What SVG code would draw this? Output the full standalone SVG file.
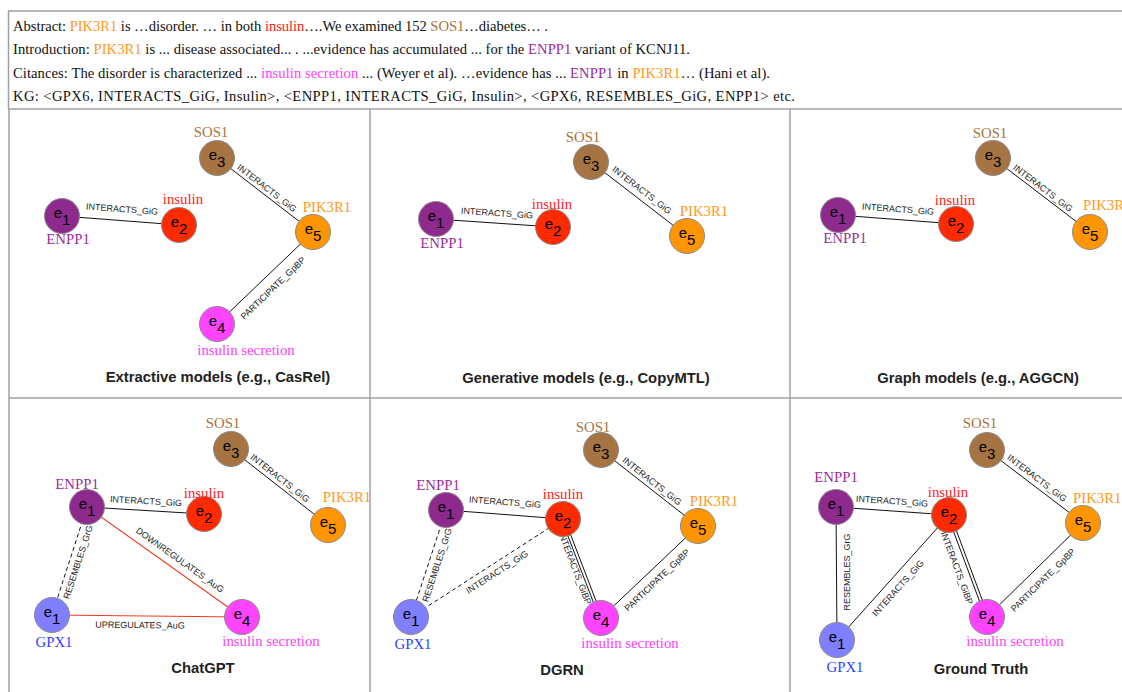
<svg xmlns="http://www.w3.org/2000/svg" width="1122" height="692" viewBox="0 0 1122 692">
<style>
.frame{fill:none;stroke:#a0a0a0;stroke-width:1.5}
.top{font-family:"Liberation Serif","Times New Roman",serif;font-size:14.6px;fill:#111}
.lbl{font-family:"Liberation Serif","Times New Roman",serif;font-size:14.8px;text-anchor:middle}
.ttl{font-family:"Liberation Sans",Arial,sans-serif;font-size:14.8px;font-weight:bold;fill:#222;text-anchor:middle}
.el{font-family:"Liberation Sans",Arial,sans-serif;font-size:9px;fill:#222;text-anchor:middle}
.e{stroke:#111;stroke-width:1;fill:none}
.d{stroke:#111;stroke-width:1;fill:none;stroke-dasharray:4,3}
.r{stroke:#f03a22;stroke-width:1.1;fill:none}
.n{stroke:#8a8a8a;stroke-width:1}
.nt{font-family:"Liberation Sans",Arial,sans-serif;font-size:15px;fill:#000;text-anchor:middle}
.c1{fill:#8e2a8e}.c2{fill:#ff2a00}.c3{fill:#a67443}.c4{fill:#ff44ff}.c5{fill:#ff9500}.cg{fill:#7f7fff}
.tp{fill:#9a2d9a}.tr{fill:#ff1a1a}.tb{fill:#a87340}.to{fill:#ff9a1a}.tm{fill:#ff3dff}.tg{fill:#2f3fff}
</style>
<rect width="1122" height="692" fill="#fff"/>
<g id="text-box">
<rect class="frame" x="8.5" y="11" width="1130" height="98"/>
<text class="top" x="13" y="31" textLength="535" lengthAdjust="spacing">Abstract: <tspan class="to">PIK3R1</tspan> is …disorder. … in both <tspan class="tr">insulin</tspan>….We examined 152 <tspan class="tb">SOS1</tspan>…diabetes… .</text>
<text class="top" x="13" y="54" textLength="677" lengthAdjust="spacing">Introduction: <tspan class="to">PIK3R1</tspan> is ... disease associated... . ...evidence has accumulated ... for the <tspan class="tp">ENPP1</tspan> variant of KCNJ11.</text>
<text class="top" x="13" y="78" textLength="757" lengthAdjust="spacing">Citances: The disorder is characterized ... <tspan class="tm">insulin secretion</tspan> ... (Weyer et al). …evidence has ... <tspan class="tp">ENPP1</tspan> in <tspan class="to">PIK3R1</tspan>… (Hani et al).</text>
<text class="top" x="13" y="101" textLength="782" lengthAdjust="spacing">KG: &lt;GPX6, INTERACTS_GiG, Insulin&gt;, &lt;ENPP1, INTERACTS_GiG, Insulin&gt;, &lt;GPX6, RESEMBLES_GiG, ENPP1&gt; etc.</text>
</g>
<g id="grid">
<line class="frame" x1="9" y1="109" x2="9" y2="692"/>
<line class="frame" x1="370" y1="109" x2="370" y2="692"/>
<line class="frame" x1="790" y1="109" x2="790" y2="692"/>
<line class="frame" x1="9" y1="398" x2="1122" y2="398"/>
</g>

<!-- Panel 1 -->
<g id="p1">
<g id="p1-connectors">
<line class="e" x1="62" y1="216" x2="179" y2="225"/>
<line class="e" x1="217" y1="158" x2="313" y2="232"/>
<line class="e" x1="217" y1="324" x2="313" y2="232"/>
<text class="el" transform="translate(122,209) rotate(4.4)" dy=".35em">INTERACTS_GiG</text>
<text class="el" transform="translate(267,188) rotate(37.6)" dy=".35em">INTERACTS_GiG</text>
<text class="el" transform="translate(273,288) rotate(-43.8)" dy=".35em">PARTICIPATE_GpBP</text>
</g>
<g id="p1-e1"><circle class="n c1" cx="62" cy="216" r="17.5"/><text class="nt" x="62" y="218">e<tspan dy="7">1</tspan></text><text class="lbl tp" x="68" y="244">ENPP1</text></g>
<g id="p1-e2"><circle class="n c2" cx="179" cy="225" r="17.5"/><text class="nt" x="179" y="227">e<tspan dy="7">2</tspan></text><text class="lbl tr" x="183" y="204">insulin</text></g>
<g id="p1-e3"><circle class="n c3" cx="217" cy="158" r="17.5"/><text class="nt" x="217" y="160">e<tspan dy="7">3</tspan></text><text class="lbl tb" x="211" y="137">SOS1</text></g>
<g id="p1-e5"><circle class="n c5" cx="313" cy="232" r="17.5"/><text class="nt" x="313" y="234">e<tspan dy="7">5</tspan></text><text class="lbl to" x="327" y="212">PIK3R1</text></g>
<g id="p1-e4"><circle class="n c4" cx="217" cy="324" r="17.5"/><text class="nt" x="217" y="326">e<tspan dy="7">4</tspan></text><text class="lbl tm" x="246" y="355">insulin secretion</text></g>
<text class="ttl" x="218" y="382">Extractive models (e.g., CasRel)</text>
</g>

<!-- Panel 2 -->
<g id="p2">
<g id="p2-connectors">
<line class="e" x1="436" y1="219" x2="553" y2="227"/>
<line class="e" x1="591" y1="162" x2="687" y2="236"/>
<text class="el" transform="translate(497,213) rotate(3.9)" dy=".35em">INTERACTS_GiG</text>
<text class="el" transform="translate(642,190) rotate(37.6)" dy=".35em">INTERACTS_GiG</text>
</g>
<g id="p2-e1"><circle class="n c1" cx="436" cy="219" r="17.5"/><text class="nt" x="436" y="221">e<tspan dy="7">1</tspan></text><text class="lbl tp" x="442" y="248">ENPP1</text></g>
<g id="p2-e2"><circle class="n c2" cx="553" cy="227" r="17.5"/><text class="nt" x="553" y="229">e<tspan dy="7">2</tspan></text><text class="lbl tr" x="552" y="209">insulin</text></g>
<g id="p2-e3"><circle class="n c3" cx="591" cy="162" r="17.5"/><text class="nt" x="591" y="164">e<tspan dy="7">3</tspan></text><text class="lbl tb" x="583" y="142">SOS1</text></g>
<g id="p2-e5"><circle class="n c5" cx="687" cy="236" r="17.5"/><text class="nt" x="687" y="238">e<tspan dy="7">5</tspan></text><text class="lbl to" x="704" y="216">PIK3R1</text></g>
<text class="ttl" x="586" y="383">Generative models (e.g., CopyMTL)</text>
</g>

<!-- Panel 3 -->
<g id="p3">
<g id="p3-connectors">
<line class="e" x1="838" y1="215" x2="956" y2="224"/>
<line class="e" x1="993" y1="158" x2="1090" y2="232"/>
<text class="el" transform="translate(898,209) rotate(4.4)" dy=".35em">INTERACTS_GiG</text>
<text class="el" transform="translate(1043,188) rotate(37.3)" dy=".35em">INTERACTS_GiG</text>
</g>
<g id="p3-e1"><circle class="n c1" cx="838" cy="215" r="17.5"/><text class="nt" x="838" y="217">e<tspan dy="7">1</tspan></text><text class="lbl tp" x="845" y="243">ENPP1</text></g>
<g id="p3-e2"><circle class="n c2" cx="956" cy="224" r="17.5"/><text class="nt" x="956" y="226">e<tspan dy="7">2</tspan></text><text class="lbl tr" x="955" y="205">insulin</text></g>
<g id="p3-e3"><circle class="n c3" cx="993" cy="158" r="17.5"/><text class="nt" x="993" y="160">e<tspan dy="7">3</tspan></text><text class="lbl tb" x="990" y="138">SOS1</text></g>
<g id="p3-e5"><circle class="n c5" cx="1090" cy="232" r="17.5"/><text class="nt" x="1090" y="234">e<tspan dy="7">5</tspan></text><text class="lbl to" x="1083" y="210" style="text-anchor:start">PIK3R1</text></g>
<text class="ttl" x="978" y="383">Graph models (e.g., AGGCN)</text>
</g>

<!-- Panel 4 -->
<g id="p4">
<g id="p4-connectors">
<line class="e" x1="231" y1="449" x2="328" y2="525"/>
<line class="e" x1="87" y1="507" x2="204" y2="514"/>
<line class="d" x1="87" y1="507" x2="52" y2="615"/>
<line class="r" x1="87" y1="507" x2="242" y2="617"/>
<line class="r" x1="52" y1="615" x2="242" y2="617"/>
<text class="el" transform="translate(280,478) rotate(38.1)" dy=".35em">INTERACTS_GiG</text>
<text class="el" transform="translate(146,501) rotate(3.4)" dy=".35em">INTERACTS_GiG</text>
<text class="el" transform="translate(78,562) rotate(-72)" dy=".35em">RESEMBLES_GrG</text>
<text class="el" transform="translate(180,560) rotate(35.4)" dy=".35em">DOWNREGULATES_AuG</text>
<text class="el" transform="translate(140,625) rotate(0.6)" dy=".35em">UPREGULATES_AuG</text>
</g>
<g id="p4-e3"><circle class="n c3" cx="231" cy="449" r="17.5"/><text class="nt" x="231" y="451">e<tspan dy="7">3</tspan></text><text class="lbl tb" x="223" y="428">SOS1</text></g>
<g id="p4-e5"><circle class="n c5" cx="328" cy="525" r="17.5"/><text class="nt" x="328" y="527">e<tspan dy="7">5</tspan></text><text class="lbl to" x="347" y="502">PIK3R1</text></g>
<g id="p4-e1"><circle class="n c1" cx="87" cy="507" r="17.5"/><text class="nt" x="87" y="509">e<tspan dy="7">1</tspan></text><text class="lbl tp" x="77" y="489">ENPP1</text></g>
<g id="p4-e2"><circle class="n c2" cx="204" cy="514" r="17.5"/><text class="nt" x="204" y="516">e<tspan dy="7">2</tspan></text><text class="lbl tr" x="204" y="498">insulin</text></g>
<g id="p4-gpx1"><circle class="n cg" cx="52" cy="615" r="17.5"/><text class="nt" x="52" y="617">e<tspan dy="7">1</tspan></text><text class="lbl tg" x="54" y="647">GPX1</text></g>
<g id="p4-e4"><circle class="n c4" cx="242" cy="617" r="17.5"/><text class="nt" x="242" y="619">e<tspan dy="7">4</tspan></text><text class="lbl tm" x="271" y="646">insulin secretion</text></g>
<text class="ttl" x="203" y="673">ChatGPT</text>
</g>

<!-- Panel 5 -->
<g id="p5">
<g id="p5-connectors">
<line class="e" x1="601" y1="450" x2="698" y2="526"/>
<line class="e" x1="446" y1="510" x2="563" y2="519"/>
<line class="d" x1="446" y1="510" x2="411" y2="617"/>
<line class="d" x1="411" y1="617" x2="563" y2="519"/>
<line class="e" x1="561.6" y1="519.5" x2="599.6" y2="618.5"/>
<line class="e" x1="564.4" y1="518.5" x2="602.4" y2="617.5"/>
<line class="e" x1="698" y1="526" x2="601" y2="618"/>
<text class="el" transform="translate(652,481) rotate(38.1)" dy=".35em">INTERACTS_GiG</text>
<text class="el" transform="translate(505,502) rotate(4.4)" dy=".35em">INTERACTS_GiG</text>
<text class="el" transform="translate(437,565) rotate(-71.9)" dy=".35em">RESEMBLES_GrG</text>
<text class="el" transform="translate(497,572) rotate(-32.8)" dy=".35em">INTERACTS_GiG</text>
<text class="el" transform="translate(575,568) rotate(69)" dy=".35em">INTERACTS_GiBP</text>
<text class="el" transform="translate(657,580) rotate(-43.5)" dy=".35em">PARTICIPATE_GpBP</text>
</g>
<g id="p5-e3"><circle class="n c3" cx="601" cy="450" r="17.5"/><text class="nt" x="601" y="452">e<tspan dy="7">3</tspan></text><text class="lbl tb" x="593" y="432">SOS1</text></g>
<g id="p5-e5"><circle class="n c5" cx="698" cy="526" r="17.5"/><text class="nt" x="698" y="528">e<tspan dy="7">5</tspan></text><text class="lbl to" x="714" y="506">PIK3R1</text></g>
<g id="p5-e1"><circle class="n c1" cx="446" cy="510" r="17.5"/><text class="nt" x="446" y="512">e<tspan dy="7">1</tspan></text><text class="lbl tp" x="438" y="490">ENPP1</text></g>
<g id="p5-e2"><circle class="n c2" cx="563" cy="519" r="17.5"/><text class="nt" x="563" y="521">e<tspan dy="7">2</tspan></text><text class="lbl tr" x="563" y="499">insulin</text></g>
<g id="p5-gpx1"><circle class="n cg" cx="411" cy="617" r="17.5"/><text class="nt" x="411" y="619">e<tspan dy="7">1</tspan></text><text class="lbl tg" x="413" y="649">GPX1</text></g>
<g id="p5-e4"><circle class="n c4" cx="601" cy="618" r="17.5"/><text class="nt" x="601" y="620">e<tspan dy="7">4</tspan></text><text class="lbl tm" x="630" y="648">insulin secretion</text></g>
<text class="ttl" x="562" y="675">DGRN</text>
</g>

<!-- Panel 6 -->
<g id="p6">
<g id="p6-connectors">
<line class="e" x1="987" y1="450" x2="1083" y2="523"/>
<line class="e" x1="836" y1="507" x2="949" y2="515"/>
<line class="e" x1="836" y1="507" x2="837" y2="640"/>
<line class="e" x1="837" y1="640" x2="949" y2="515"/>
<line class="e" x1="947.6" y1="515.5" x2="985.6" y2="617.5"/>
<line class="e" x1="950.4" y1="514.5" x2="988.4" y2="616.5"/>
<line class="e" x1="1083" y1="523" x2="987" y2="617"/>
<text class="el" transform="translate(1037,478) rotate(37.2)" dy=".35em">INTERACTS_GiG</text>
<text class="el" transform="translate(892,501) rotate(4)" dy=".35em">INTERACTS_GiG</text>
<text class="el" transform="translate(847,572) rotate(-90)" dy=".35em">RESEMBLES_GrG</text>
<text class="el" transform="translate(898,588) rotate(-48.1)" dy=".35em">INTERACTS_GiG</text>
<text class="el" transform="translate(957,568) rotate(69.6)" dy=".35em">INTERACTS_GiBP</text>
<text class="el" transform="translate(1043,580) rotate(-44.4)" dy=".35em">PARTICIPATE_GpBP</text>
</g>
<g id="p6-e3"><circle class="n c3" cx="987" cy="450" r="17.5"/><text class="nt" x="987" y="452">e<tspan dy="7">3</tspan></text><text class="lbl tb" x="980" y="428">SOS1</text></g>
<g id="p6-e5"><circle class="n c5" cx="1083" cy="523" r="17.5"/><text class="nt" x="1083" y="525">e<tspan dy="7">5</tspan></text><text class="lbl to" x="1073" y="503" style="text-anchor:start">PIK3R1</text></g>
<g id="p6-e1"><circle class="n c1" cx="836" cy="507" r="17.5"/><text class="nt" x="836" y="509">e<tspan dy="7">1</tspan></text><text class="lbl tp" x="836" y="482">ENPP1</text></g>
<g id="p6-e2"><circle class="n c2" cx="949" cy="515" r="17.5"/><text class="nt" x="949" y="517">e<tspan dy="7">2</tspan></text><text class="lbl tr" x="948" y="497">insulin</text></g>
<g id="p6-gpx1"><circle class="n cg" cx="837" cy="640" r="17.5"/><text class="nt" x="837" y="642">e<tspan dy="7">1</tspan></text><text class="lbl tg" x="845" y="672">GPX1</text></g>
<g id="p6-e4"><circle class="n c4" cx="987" cy="617" r="17.5"/><text class="nt" x="987" y="619">e<tspan dy="7">4</tspan></text><text class="lbl tm" x="1015" y="646">insulin secretion</text></g>
<text class="ttl" x="981" y="674">Ground Truth</text>
</g>
</svg>
